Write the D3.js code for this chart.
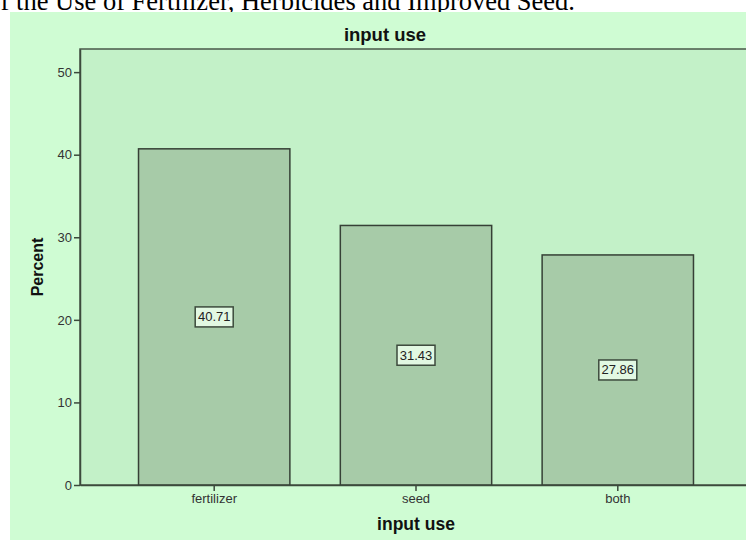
<!DOCTYPE html>
<html>
<head>
<meta charset="utf-8">
<script src="https://cdn.jsdelivr.net/npm/d3@7/dist/d3.min.js"></script>
<style>
  body { margin: 0; background: #fff; }
  svg { display: block; }
</style>
</head>
<body>
<svg id="canvas"></svg>
<script>
// Data
var categories = ['fertilizer', 'seed', 'both'];
var percents = [40.71, 31.43, 27.86];
var yTicks = [0, 10, 20, 30, 40, 50];

var canvasWidth = 746;
var canvasHeight = 540;

// Plot frame (the right side runs off the picture)
var plot = { left: 80, top: 49, right: 752, bottom: 485 };

var svg = d3.select('#canvas')
  .attr('width', canvasWidth)
  .attr('height', canvasHeight)
  .style('font-family', '"Liberation Sans", Arial, sans-serif');

// Caption of the document, cut off at the top
svg.append('text')
  .attr('x', 575)
  .attr('y', 10)
  .attr('text-anchor', 'end')
  .style('font-family', '"Liberation Serif", "Times New Roman", serif')
  .style('font-size', '26.5px')
  .attr('fill', '#000')
  .text('of the Use of Fertilizer, Herbicides and Improved Seed.');

// Outer chart background
svg.append('rect')
  .attr('x', 10)
  .attr('y', 12)
  .attr('width', canvasWidth - 10)
  .attr('height', canvasHeight - 12)
  .attr('fill', '#cffcd3');

// Scales
var x = d3.scaleBand()
  .domain(categories)
  .range([plot.left, plot.right])
  .paddingInner(0.25)
  .paddingOuter(0.29);

var y = d3.scaleLinear()
  .domain([0, 52.8])
  .range([plot.bottom, plot.top]);

// Inner plot background
svg.append('rect')
  .attr('x', plot.left)
  .attr('y', plot.top)
  .attr('width', plot.right - plot.left)
  .attr('height', plot.bottom - plot.top)
  .attr('fill', '#c3f1c8')
  .attr('stroke', '#4a584a')
  .attr('stroke-width', 1.5);

// Bars
var bars = svg.append('g')
  .classed('bars', true)
  .selectAll('.bar')
  .data(categories)
  .enter()
  .append('g')
  .classed('bar', true);

bars.append('rect')
  .attr('x', function(d) { return x(d); })
  .attr('y', function(d, i) { return y(percents[i]); })
  .attr('width', x.bandwidth())
  .attr('height', function(d, i) { return y(0) - y(percents[i]); })
  .attr('fill', '#a7cba8')
  .attr('stroke', '#364036')
  .attr('stroke-width', 1.5);

// Value labels in boxes at mid height
bars.append('rect')
  .attr('x', function(d) { return x(d) + x.bandwidth() / 2 - 19; })
  .attr('y', function(d, i) { return y(percents[i] / 2) - 10; })
  .attr('width', 38)
  .attr('height', 20)
  .attr('fill', '#e2f8e2')
  .attr('stroke', '#3c4a3c')
  .attr('stroke-width', 1.5);

bars.append('text')
  .attr('x', function(d) { return x(d) + x.bandwidth() / 2; })
  .attr('y', function(d, i) { return y(percents[i] / 2) + 4.5; })
  .attr('text-anchor', 'middle')
  .style('font-size', '13px')
  .attr('fill', '#222')
  .text(function(d, i) { return percents[i].toFixed(2); });

// Y axis
var yAxis = svg.append('g')
  .classed('y-axis', true)
  .attr('transform', 'translate(' + plot.left + ',0)')
  .call(d3.axisLeft(y).tickValues(yTicks).tickSize(6).tickSizeOuter(0).tickPadding(2));

// X axis
var xAxis = svg.append('g')
  .classed('x-axis', true)
  .attr('transform', 'translate(0,' + plot.bottom + ')')
  .call(d3.axisBottom(x).tickSize(6).tickSizeOuter(0).tickPadding(3));

[yAxis, xAxis].forEach(function(ax) {
  ax.select('.domain').attr('stroke', '#3c4a3c').attr('stroke-width', 1.5);
  ax.selectAll('.tick line').attr('stroke', '#3c4a3c').attr('stroke-width', 1.5);
  ax.selectAll('.tick text')
    .attr('fill', '#333')
    .style('font-size', '13px')
    .style('font-family', '"Liberation Sans", Arial, sans-serif');
});

// Title, centred on the whole chart
svg.append('text')
  .attr('x', 385)
  .attr('y', 41)
  .attr('text-anchor', 'middle')
  .style('font-size', '18.5px')
  .style('font-weight', 'bold')
  .attr('fill', '#111')
  .text('input use');

// X axis label
svg.append('text')
  .attr('x', 416)
  .attr('y', 530)
  .attr('text-anchor', 'middle')
  .style('font-size', '17.5px')
  .style('font-weight', 'bold')
  .attr('fill', '#111')
  .text('input use');

// Y axis label
svg.append('text')
  .attr('transform', 'translate(43,' + ((plot.top + plot.bottom) / 2) + ') rotate(-90)')
  .attr('text-anchor', 'middle')
  .style('font-size', '16px')
  .style('font-weight', 'bold')
  .attr('fill', '#111')
  .text('Percent');
</script>
</body>
</html>
